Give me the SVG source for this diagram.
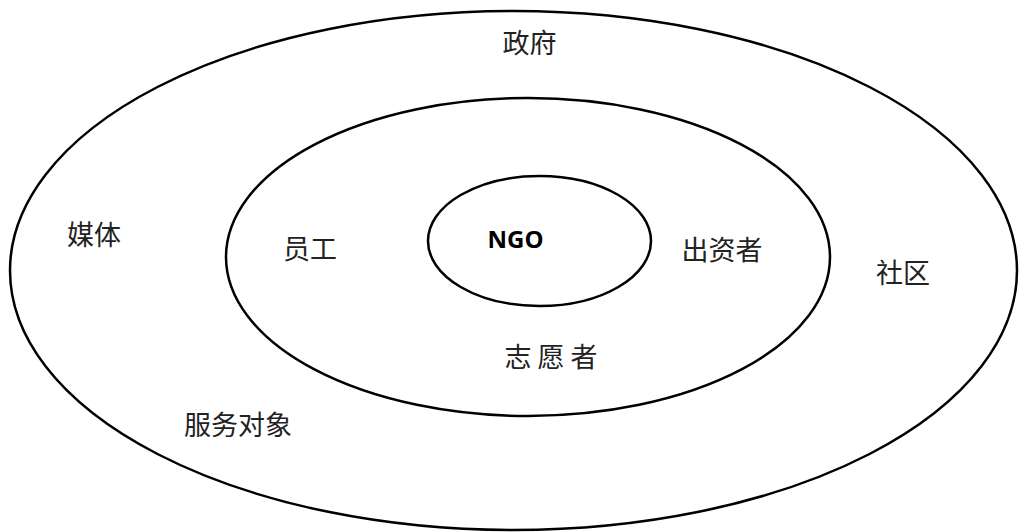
<svg xmlns="http://www.w3.org/2000/svg" width="1019" height="532" viewBox="0 0 1019 532">
<style>
.ring{fill:none;stroke:#000;stroke-width:2.5}
.lbl{font-family:"Noto Sans CJK SC","Noto Sans",sans-serif;font-size:27px;fill:#222;text-anchor:middle}
.ngo{font-family:"Open Sans","Liberation Sans",sans-serif;font-size:24px;font-weight:bold;fill:#000;text-anchor:middle}
</style>
<rect width="1019" height="532" fill="#fff"/>
<g id="outer">
<ellipse class="ring" cx="513.5" cy="270.5" rx="503.5" ry="259.5"/>
<text class="lbl" x="529.5" y="53">政府</text>
<text class="lbl" x="94" y="245">媒体</text>
<text class="lbl" x="903" y="283">社区</text>
<text class="lbl" x="238" y="435">服务对象</text>
</g>
<g id="middle">
<ellipse class="ring" cx="528" cy="257" rx="302" ry="159"/>
<text class="lbl" x="310" y="259">员工</text>
<text class="lbl" x="722" y="260">出资者</text>
<text class="lbl" x="551" y="367" xml:space="preserve">志 愿 者</text>
</g>
<g id="inner">
<ellipse class="ring" cx="539.5" cy="241" rx="111.5" ry="65"/>
<text class="ngo" x="515.5" y="248">NGO</text>
</g>
<g id="connectors"></g>
</svg>
